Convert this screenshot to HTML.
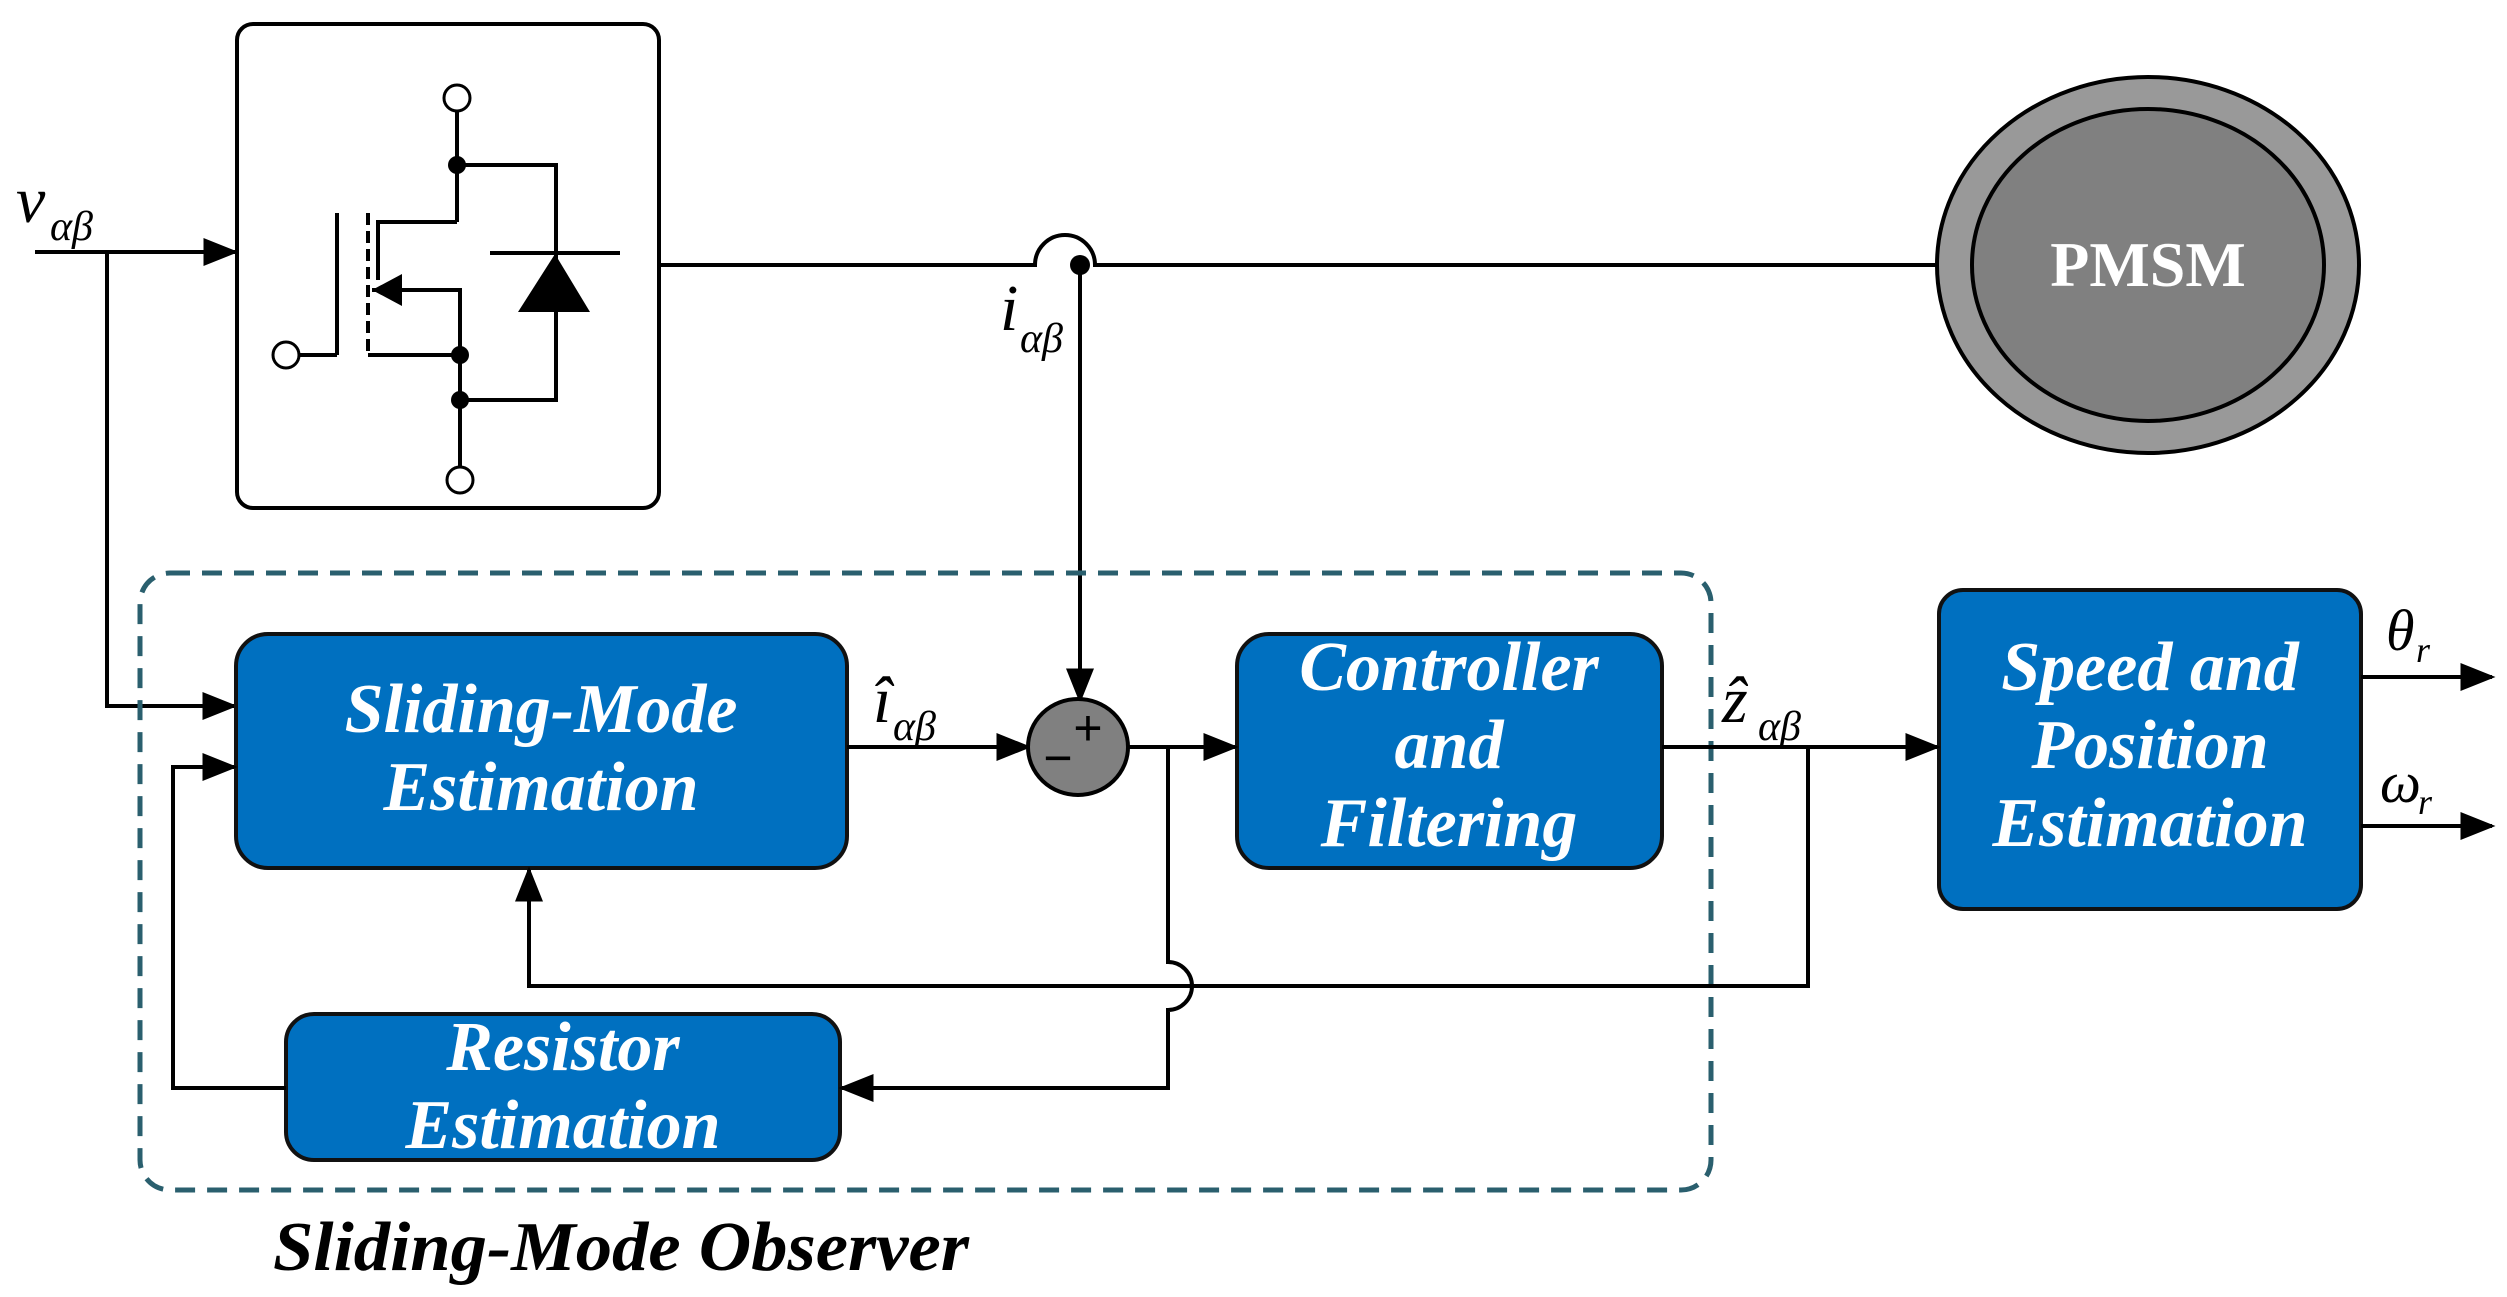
<!DOCTYPE html>
<html><head><meta charset="utf-8"><style>
html,body{margin:0;padding:0;background:#fff;}
svg{display:block;}
.bt{font-family:"Liberation Serif",serif;font-weight:bold;font-style:italic;fill:#fff;font-size:70px;text-anchor:middle;}
.lb{font-family:"Liberation Serif",serif;font-style:italic;fill:#000;}
</style></head><body>
<svg width="2507" height="1297" viewBox="0 0 2507 1297" xmlns="http://www.w3.org/2000/svg">
<defs>
<marker id="arb" viewBox="0 0 10 8" refX="9" refY="4" markerWidth="40" markerHeight="28" orient="auto" markerUnits="userSpaceOnUse"><path d="M0,0 L10,4 L0,8 z" fill="#000"/></marker>
</defs>
<g stroke="#000" stroke-width="4" fill="none">
<line x1="35" y1="252" x2="235" y2="252" marker-end="url(#arb)"/>
<polyline points="107,252 107,706 234,706" marker-end="url(#arb)"/>
<rect x="237" y="24" width="422" height="484" rx="16"/>
<line x1="457" y1="110" x2="457" y2="165"/>
<line x1="457" y1="165" x2="457" y2="222"/>
<polyline points="457,165 556,165 556,400 462,400"/>
<polyline points="457,222 378,222 378,280"/>
<line x1="337" y1="213" x2="337" y2="355"/>
<line x1="368" y1="213" x2="368" y2="355" stroke-dasharray="12,6"/>
<polyline points="300,355 337,355"/>
<polyline points="368,355 460,355 460,460"/>
<polyline points="372,290 460,290 460,355"/>
<polyline points="460,400 460,470"/>
<line x1="490" y1="253" x2="620" y2="253"/>
<circle cx="457" cy="98" r="13" fill="#fff" stroke-width="3"/>
<circle cx="286" cy="355" r="13" fill="#fff" stroke-width="3"/>
<circle cx="460" cy="480" r="13" fill="#fff" stroke-width="3"/>
<path d="M659,265 L1035,265 A30,30 0 0 1 1095,265 L1936,265"/>
<line x1="1080" y1="265" x2="1080" y2="700" marker-end="url(#arb)"/>
</g>
<g fill="#000">
<circle cx="457" cy="165" r="9"/><circle cx="460" cy="355" r="9"/><circle cx="460" cy="400" r="9"/>
<path d="M518,312 L590,312 L555,254 z"/>
<path d="M372,290 L402,274 L402,306 z"/>
<circle cx="1080" cy="265" r="10"/>
</g>
<ellipse cx="2148" cy="265" rx="211" ry="188" fill="#999" stroke="#000" stroke-width="4"/>
<ellipse cx="2148" cy="265" rx="176" ry="156" fill="#808080" stroke="#000" stroke-width="4"/>
<text x="2148" y="286" font-family="Liberation Serif,serif" font-weight="bold" font-size="64" fill="#fff" text-anchor="middle">PMSM</text>
<rect x="140" y="573" width="1571" height="617" rx="30" fill="none" stroke="#2a5f6e" stroke-width="5" stroke-dasharray="20,12"/>
<g fill="#0070c0" stroke="#111" stroke-width="4">
<rect x="236" y="634" width="611" height="234" rx="32"/>
<rect x="1237" y="634" width="425" height="234" rx="32"/>
<rect x="1939" y="590" width="422" height="319" rx="24"/>
<rect x="286" y="1014" width="554" height="146" rx="28"/>
</g>
<text class="bt" x="541" y="732">Sliding-Mode</text>
<text class="bt" x="541" y="810">Estimation</text>
<text class="bt" x="1449" y="690">Controller</text>
<text class="bt" x="1449" y="768">and</text>
<text class="bt" x="1449" y="846">Filtering</text>
<text class="bt" x="2150" y="690">Speed and</text>
<text class="bt" x="2150" y="768">Position</text>
<text class="bt" x="2150" y="846">Estimation</text>
<text class="bt" x="563" y="1070">Resistor</text>
<text class="bt" x="563" y="1148">Estimation</text>
<g stroke="#000" stroke-width="4" fill="none">
<line x1="847" y1="747" x2="1028" y2="747" marker-end="url(#arb)"/>
<line x1="1128" y1="747" x2="1235" y2="747" marker-end="url(#arb)"/>
<path d="M1168,747 L1168,962 A24,24 0 0 1 1168,1010 L1168,1088 L842,1088" marker-end="url(#arb)"/>
<polyline points="286,1088 173,1088 173,767 234,767" marker-end="url(#arb)"/>
<line x1="1662" y1="747" x2="1937" y2="747" marker-end="url(#arb)"/>
<polyline points="1808,747 1808,986 529,986 529,870" marker-end="url(#arb)"/>
<line x1="2361" y1="677" x2="2492" y2="677" marker-end="url(#arb)"/>
<line x1="2361" y1="826" x2="2492" y2="826" marker-end="url(#arb)"/>
</g>
<ellipse cx="1078" cy="747" rx="50" ry="48" fill="#808080" stroke="#000" stroke-width="4"/>
<text x="1088" y="745" font-family="Liberation Sans,sans-serif" font-size="50" fill="#000" text-anchor="middle">+</text>
<text x="1058" y="775" font-family="Liberation Sans,sans-serif" font-size="50" fill="#000" text-anchor="middle">−</text>
<text class="lb" x="16" y="222" font-size="66">v</text><text class="lb" x="50" y="240" font-size="42">αβ</text>
<text class="lb" x="1000" y="330" font-size="66">i</text><text class="lb" x="1020" y="352" font-size="42">αβ</text>
<text class="lb" x="873" y="722" font-size="66">î</text><text class="lb" x="893" y="740" font-size="42">αβ</text>
<text class="lb" x="1722" y="722" font-size="66">ẑ</text><text class="lb" x="1758" y="740" font-size="42">αβ</text>
<text class="lb" x="2386" y="650" font-size="58">θ</text><text class="lb" x="2416" y="662" font-size="36">r</text>
<text class="lb" x="2380" y="802" font-size="58">ω</text><text class="lb" x="2418" y="814" font-size="36">r</text>
<text x="273" y="1270" font-family="Liberation Serif,serif" font-weight="bold" font-style="italic" font-size="70" fill="#000" textLength="696" lengthAdjust="spacingAndGlyphs">Sliding-Mode Observer</text>
</svg>
</body></html>
